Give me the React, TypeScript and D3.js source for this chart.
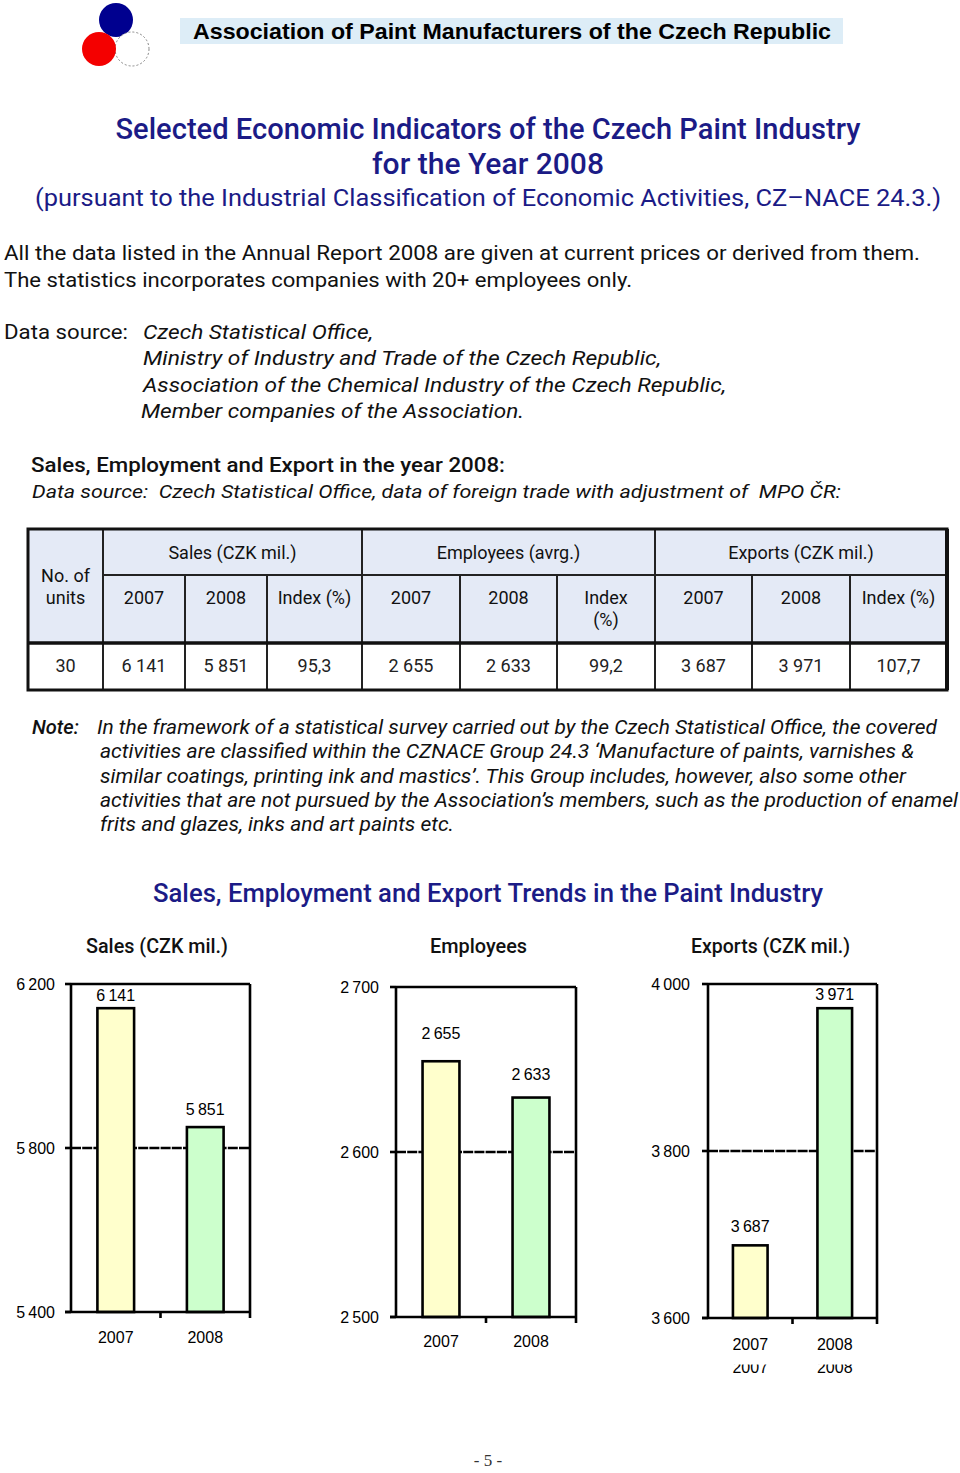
import React from "react";
import * as d3 from "d3";

// ---------- data ----------
const years = ["2007", "2008"];
const salesValues = [6141, 5851];
const employeesValues = [2655, 2633];
const exportsValues = [3687, 3971];
const salesTicks = [5400, 5800, 6200];
const employeesTicks = [2500, 2600, 2700];
const exportsTicks = [3600, 3800, 4000];

const tableGroups = ["Sales (CZK mil.)", "Employees (avrg.)", "Exports (CZK mil.)"];
const tableSubHeaders = ["2007", "2008", "Index (%)", "2007", "2008", "Index\n(%)", "2007", "2008", "Index (%)"];
const unitsCount = "30";
const tableRow = ["6 141", "5 851", "95,3", "2 655", "2 633", "99,2", "3 687", "3 971", "107,7"];

const dataSources = [
  "Czech Statistical Office,",
  "Ministry of Industry and Trade of the Czech Republic,",
  "Association of the Chemical Industry of the Czech Republic,",
  "Member companies of the Association.",
];
const noteLines = [
  "In the framework of a statistical survey carried out by the Czech Statistical Office, the covered",
  "activities are classified within the CZNACE Group 24.3 \u2018Manufacture of paints, varnishes &",
  "similar coatings, printing ink and mastics\u2019. This Group includes, however, also some other",
  "activities that are not pursued by the Association\u2019s members, such as the production of enamel",
  "frits and glazes, inks and art paints etc.",
];

// ---------- styles ----------
const BODY = "Roboto, 'Liberation Sans', sans-serif";
const ARIAL = "'Liberation Sans', Arial, sans-serif";
const NAVY = "#1B1B86";
const BAR_FILLS = ["#FFFFCC", "#CCFFCC"];
const HEADER_BG = "#E4EAF6";

const fmt = d3.formatLocale({ decimal: ",", thousands: "\u2009", grouping: [3], currency: ["", ""] }).format(",d");

function T(props: any) {
  const { x, y, children, size = 20, anchor = "start", w, weight = 400, italic = false, fill = "#111", family = BODY } = props;
  return (
    <text
      x={x}
      y={y}
      fontSize={size}
      textAnchor={anchor}
      fontWeight={weight}
      fontStyle={italic ? "italic" : "normal"}
      fill={fill}
      fontFamily={family}
      textLength={w}
      lengthAdjust={w ? "spacingAndGlyphs" : undefined}
      style={{ whiteSpace: "pre" }}
    >
      {children}
    </text>
  );
}

type Layout = {
  x0: number; x1: number; y0: number; y1: number;
  labelRight: number; offsets: number[]; xLabelY: number;
  title: string; titleX: number; titleW: number; duplicateLabels?: boolean;
};

function BarChart({ values, ticks, layout, id }: { values: number[]; ticks: number[]; layout: Layout; id: string }) {
  const { x0, x1, y0, y1, labelRight, offsets, xLabelY } = layout;
  const x = d3.scaleBand().domain(years).range([x0, x1]).padding(0);
  const y = d3.scaleLinear().domain([ticks[0], ticks[ticks.length - 1]]).range([y1, y0]);
  const bw = x.bandwidth() * 0.41;
  const stroke = 2.6;
  return (
    <g>
      <T x={layout.titleX} y={953} size={20} weight={500} w={layout.titleW}>{layout.title}</T>
      {ticks.slice(1, -1).map((t) => (
        <line key={t} x1={x0} x2={x1} y1={y(t)} y2={y(t)} stroke="#000" strokeWidth={2.4} strokeDasharray="10 1.2" />
      ))}
      {values.map((v, i) => {
        const cx = (x(years[i]) as number) + x.bandwidth() / 2;
        return (
          <g key={i}>
            <rect x={cx - bw / 2} y={y(v)} width={bw} height={y1 - y(v)} fill={BAR_FILLS[i]} stroke="#000" strokeWidth={stroke} />
            <T x={cx} y={y(v) - offsets[i]} size={16} anchor="middle" family={ARIAL} fill="#000">{fmt(v)}</T>
          </g>
        );
      })}
      {/* frame */}
      <line x1={x0} x2={x1} y1={y0} y2={y0} stroke="#000" strokeWidth={stroke} />
      <line x1={x1} x2={x1} y1={y0} y2={y1} stroke="#000" strokeWidth={stroke} />
      <line x1={x0} x2={x0} y1={y0} y2={y1} stroke="#000" strokeWidth={stroke} />
      <line x1={x0 - 6} x2={x1 + 1} y1={y1} y2={y1} stroke="#000" strokeWidth={stroke} />
      {ticks.map((t) => (
        <g key={t}>
          <line x1={x0 - 6} x2={x0} y1={y(t)} y2={y(t)} stroke="#000" strokeWidth={stroke} />
          <T x={labelRight} y={y(t) + 6} size={16} anchor="end" family={ARIAL} fill="#000">{fmt(t)}</T>
        </g>
      ))}
      {years.map((yr) => (
        <line key={yr} x1={(x(yr) as number) + x.bandwidth()} x2={(x(yr) as number) + x.bandwidth()} y1={y1} y2={y1 + 6} stroke="#000" strokeWidth={stroke} />
      ))}
      {years.map((yr) => (
        <T key={yr} x={(x(yr) as number) + x.bandwidth() / 2} y={xLabelY} size={16} anchor="middle" family={ARIAL} fill="#000">{yr}</T>
      ))}
      {layout.duplicateLabels && (
        <g clipPath={`url(#${id}-clip)`}>
          <clipPath id={`${id}-clip`}>
            <rect x={x0} y={1364.5} width={x1 - x0} height={30} />
          </clipPath>
          {years.map((yr) => (
            <T key={yr} x={(x(yr) as number) + x.bandwidth() / 2} y={xLabelY + 23} size={16} anchor="middle" family={ARIAL} fill="#000">{yr}</T>
          ))}
        </g>
      )}
    </g>
  );
}

const salesLayout: Layout = { x0: 71, x1: 250, y0: 984, y1: 1312, labelRight: 55, offsets: [7, 12], xLabelY: 1343, title: "Sales (CZK mil.)", titleX: 86, titleW: 142 };
const employeesLayout: Layout = { x0: 396, x1: 576, y0: 987, y1: 1317, labelRight: 379, offsets: [22, 18], xLabelY: 1347, title: "Employees", titleX: 430, titleW: 97 };
const exportsLayout: Layout = { x0: 708, x1: 877, y0: 984, y1: 1318, labelRight: 690, offsets: [13, 8], xLabelY: 1350, title: "Exports (CZK mil.)", titleX: 691, titleW: 159, duplicateLabels: true };

function Table() {
  const cols = [28, 103, 185, 267, 362, 460, 557, 655, 752, 850, 947];
  const top = 529, mid = 575, sep = 643, bottom = 690;
  const groupBounds = [[103, 362], [362, 655], [655, 947]];
  return (
    <g>
      <rect x={cols[0]} y={top} width={cols[10] - cols[0]} height={sep - top} fill={HEADER_BG} />
      <line x1={103} x2={947} y1={mid} y2={mid} stroke="#222" strokeWidth={2} />
      {cols.slice(1, -1).map((c, i) => {
        const full = c === 103 || c === 362 || c === 655;
        return <line key={i} x1={c} x2={c} y1={full ? top : mid} y2={bottom} stroke="#222" strokeWidth={2} />;
      })}
      <line x1={28} x2={947} y1={sep} y2={sep} stroke="#111" strokeWidth={3.5} />
      <rect x={cols[0]} y={top} width={cols[10] - cols[0]} height={bottom - top} fill="none" stroke="#111" strokeWidth={3} />
      <line x1={947} x2={947} y1={top} y2={bottom} stroke="#111" strokeWidth={4} />
      <T x={65.5} y={582} size={18} anchor="middle">No. of</T>
      <T x={65.5} y={604} size={18} anchor="middle">units</T>
      {tableGroups.map((g, i) => (
        <T key={g} x={(groupBounds[i][0] + groupBounds[i][1]) / 2} y={559} size={18} anchor="middle">{g}</T>
      ))}
      {tableSubHeaders.map((h, i) => {
        const cx = (cols[i + 1] + cols[i + 2]) / 2;
        const parts = h.split("\n");
        return parts.map((p, j) => (
          <T key={`${i}-${j}`} x={cx} y={604 + j * 22} size={18} anchor="middle">{p}</T>
        ));
      })}
      <T x={65.5} y={672} size={18} anchor="middle" fill="#222">{unitsCount}</T>
      {tableRow.map((v, i) => (
        <T key={i} x={(cols[i + 1] + cols[i + 2]) / 2} y={672} size={18} anchor="middle" fill="#222">{v}</T>
      ))}
    </g>
  );
}

export default function App() {
  return (
    <svg width={960} height={1473} style={{ position: "absolute", left: 0, top: 0, background: "#fff" }}>
      <rect width={960} height={1473} fill="#fff" />
      {/* logo */}
      <circle cx={116} cy={20} r={17} fill="#00008F" />
      <circle cx={132} cy={49} r={17} fill="#fff" stroke="#888" strokeWidth={1} strokeDasharray="2 2" />
      <circle cx={99} cy={49} r={17} fill="#F40000" />
      {/* header band */}
      <rect x={180} y={18} width={663} height={26} fill="#DDEDF7" />
      <T x={193} y={39} size={22} weight={700} family={ARIAL} w={638} fill="#000">Association of Paint Manufacturers of the Czech Republic</T>

      {/* titles */}
      <T x={488} y={139} size={30} weight={500} anchor="middle" fill={NAVY} w={745}>Selected Economic Indicators of the Czech Paint Industry</T>
      <T x={488} y={174} size={30} weight={500} anchor="middle" fill={NAVY} w={232}>for the Year 2008</T>
      <T x={488} y={206} size={24} anchor="middle" fill={NAVY} w={906}>(pursuant to the Industrial Classification of Economic Activities, CZ–NACE 24.3.)</T>

      <T x={4} y={260} size={20} w={916}>All the data listed in the Annual Report 2008 are given at current prices or derived from them.</T>
      <T x={4} y={287} size={20} w={628}>The statistics incorporates companies with 20+ employees only.</T>

      <T x={4} y={339} size={20} w={124}>Data source:</T>
      {dataSources.map((s, i) => {
        const widths = [230, 518, 583, 383];
        return (
          <T key={i} x={i === 3 ? 141 : 143} y={339 + i * 26.3} size={20} italic w={widths[i]}>{s}</T>
        );
      })}

      <T x={31} y={472} size={21} weight={500} w={474}>Sales, Employment and Export in the year 2008:</T>
      <T x={32} y={498} size={19} italic w={809}>Data source:  Czech Statistical Office, data of foreign trade with adjustment of  MPO ČR:</T>

      <Table />

      <T x={32} y={734} size={20} italic weight={500} w={47}>Note:</T>
      {noteLines.map((l, i) => {
        const widths = [840, 814, 806, 858, 354];
        return (
          <T key={i} x={i === 0 ? 97 : 100} y={734 + i * 24.3} size={20} italic w={widths[i]}>{l}</T>
        );
      })}

      <T x={488} y={902} size={26} weight={500} anchor="middle" fill={NAVY} w={670}>Sales, Employment and Export Trends in the Paint Industry</T>

      <BarChart id="sales" values={salesValues} ticks={salesTicks} layout={salesLayout} />
      <BarChart id="employees" values={employeesValues} ticks={employeesTicks} layout={employeesLayout} />
      <BarChart id="exports" values={exportsValues} ticks={exportsTicks} layout={exportsLayout} />

      <T x={488} y={1466} size={17} anchor="middle" family="'Liberation Serif', 'Times New Roman', serif" fill="#333">- 5 -</T>
    </svg>
  );
}
